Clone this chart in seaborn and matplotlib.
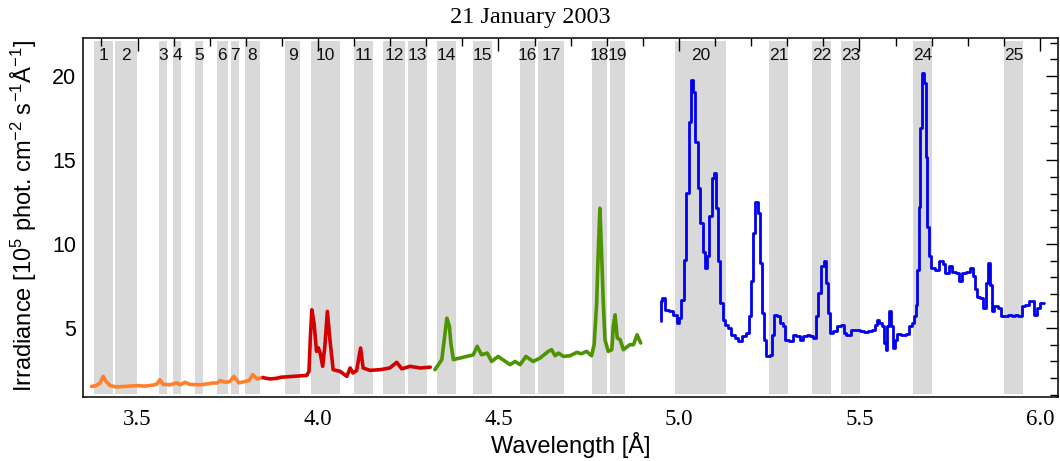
import numpy as np
import pandas as pd
import matplotlib
matplotlib.use("Agg")
import matplotlib.pyplot as plt
import seaborn as sns
from matplotlib.ticker import MultipleLocator

# ---------------- data ----------------
title = "21 January 2003"
band_labels = [str(i) for i in range(1, 26)]
band_lo = [3.380, 3.438, 3.560, 3.598, 3.659, 3.720, 3.759, 3.798, 3.909, 3.981,
           4.100, 4.180, 4.249, 4.330, 4.429, 4.560, 4.609, 4.759, 4.809, 4.989,
           5.249, 5.368, 5.449, 5.648, 5.900]
band_hi = [3.431, 3.498, 3.582, 3.621, 3.681, 3.750, 3.781, 3.839, 3.950, 4.061,
           4.152, 4.241, 4.302, 4.382, 4.482, 4.601, 4.681, 4.801, 4.850, 5.130,
           5.302, 5.421, 5.501, 5.701, 5.953]

orange_wl = [3.373, 3.385, 3.396, 3.405, 3.413, 3.424, 3.442, 3.465, 3.498, 3.521,
             3.543, 3.554, 3.562, 3.571, 3.590, 3.609, 3.618, 3.632, 3.645, 3.673,
             3.693, 3.709, 3.720, 3.729, 3.745, 3.756, 3.767, 3.781, 3.798, 3.809,
             3.819, 3.831, 3.848]
orange_irr = [1.50, 1.55, 1.70, 2.10, 1.80, 1.55, 1.47, 1.50, 1.55, 1.52,
              1.58, 1.65, 1.90, 1.62, 1.60, 1.71, 1.60, 1.75, 1.62, 1.60,
              1.65, 1.71, 1.70, 1.85, 1.75, 1.80, 2.10, 1.71, 1.80, 1.85,
              2.20, 1.95, 2.05]

red_wl = [3.848, 3.867, 3.884, 3.898, 3.931, 3.969, 3.975, 3.979, 3.983, 3.989,
          3.996, 4.001, 4.006, 4.013, 4.019, 4.026, 4.033, 4.042, 4.061, 4.080,
          4.089, 4.097, 4.107, 4.118, 4.125, 4.144, 4.172, 4.199, 4.218, 4.232,
          4.255, 4.283, 4.311]
red_irr = [2.02, 1.95, 1.98, 2.05, 2.10, 2.16, 2.40, 4.50, 6.07, 5.28,
           3.59, 3.80, 3.50, 2.70, 3.89, 5.97, 4.29, 2.50, 2.40, 2.10,
           2.60, 2.30, 2.45, 3.79, 2.60, 2.46, 2.50, 2.60, 2.94, 2.55,
           2.70, 2.60, 2.65]

green_wl = [4.324, 4.343, 4.352, 4.357, 4.364, 4.368, 4.375, 4.412, 4.430, 4.441,
            4.453, 4.469, 4.481, 4.499, 4.532, 4.546, 4.560, 4.576, 4.596, 4.615,
            4.638, 4.647, 4.657, 4.666, 4.680, 4.698, 4.717, 4.730, 4.744, 4.758,
            4.765, 4.772, 4.776, 4.781, 4.786, 4.790, 4.795, 4.804, 4.814, 4.818,
            4.823, 4.829, 4.837, 4.846, 4.864, 4.874, 4.884, 4.894]
green_irr = [2.50, 3.10, 4.68, 5.57, 5.08, 4.09, 3.10, 3.29, 3.38, 3.89,
             3.39, 3.49, 2.99, 3.29, 2.80, 2.99, 2.80, 3.29, 2.99, 3.19,
             3.59, 3.69, 3.33, 3.49, 3.29, 3.33, 3.53, 3.45, 3.59, 3.33,
             3.99, 6.47, 9.25, 12.12, 9.25, 6.67, 4.29, 3.59, 3.69, 5.08,
             5.77, 4.39, 4.29, 3.69, 3.99, 3.99, 4.58, 4.09]

blue_wl = [4.949, 4.950, 4.958, 4.966, 4.980, 4.989, 4.998, 5.003, 5.010, 5.017,
           5.023, 5.030, 5.035, 5.042, 5.049, 5.056, 5.063, 5.069, 5.075, 5.081,
           5.088, 5.093, 5.100, 5.106, 5.112, 5.118, 5.124, 5.132, 5.139, 5.149,
           5.160, 5.169, 5.180, 5.192, 5.197, 5.203, 5.209, 5.215, 5.222, 5.227,
           5.232, 5.238, 5.246, 5.257, 5.261, 5.266, 5.275, 5.285, 5.291, 5.298,
           5.312, 5.321, 5.330, 5.340, 5.349, 5.358, 5.367, 5.376, 5.383, 5.390,
           5.398, 5.404, 5.411, 5.416, 5.423, 5.432, 5.444, 5.454, 5.458, 5.469,
           5.483, 5.497, 5.506, 5.520, 5.529, 5.538, 5.546, 5.552, 5.559, 5.565,
           5.570, 5.575, 5.579, 5.584, 5.590, 5.595, 5.601, 5.607, 5.621, 5.635,
           5.641, 5.649, 5.653, 5.658, 5.663, 5.665, 5.670, 5.675, 5.681, 5.686,
           5.691, 5.695, 5.703, 5.714, 5.728, 5.734, 5.742, 5.753, 5.762, 5.774,
           5.780, 5.788, 5.802, 5.811, 5.817, 5.823, 5.829, 5.839, 5.848, 5.854,
           5.860, 5.865, 5.869, 5.878, 5.889, 5.898, 5.908, 5.917, 5.926, 5.935,
           5.944, 5.954, 5.963, 5.974, 5.981, 5.988, 5.995, 6.004, 6.010]
blue_irr = [5.38, 6.57, 6.77, 6.07, 6.00, 5.77, 5.28, 5.57, 6.67, 9.05,
            13.02, 17.28, 19.76, 19.07, 16.09, 13.31, 11.23, 9.54, 8.55, 9.25,
            11.63, 13.91, 14.25, 12.12, 8.95, 6.47, 5.48, 5.18, 4.98, 4.58,
            4.39, 4.19, 4.48, 4.68, 5.67, 7.76, 10.63, 12.52, 11.83, 8.85,
            5.87, 4.29, 3.29, 3.39, 4.58, 5.77, 5.67, 5.28, 5.08, 4.29,
            4.19, 4.58, 4.48, 4.25, 4.48, 4.58, 4.48, 4.39, 5.67, 7.06,
            8.65, 8.95, 7.66, 5.87, 4.68, 4.78, 5.08, 5.18, 4.68, 4.58,
            4.88, 4.88, 4.78, 4.75, 4.78, 4.88, 5.18, 5.47, 5.28, 5.08,
            4.09, 3.69, 5.08, 6.00, 5.08, 3.79, 4.29, 4.64, 4.55, 4.64,
            5.08, 5.28, 5.67, 6.37, 8.45, 12.22, 16.88, 20.20, 19.56, 15.20,
            11.03, 9.25, 8.55, 8.45, 8.95, 8.80, 8.25, 8.65, 8.35, 8.25,
            7.76, 8.25, 8.35, 8.55, 8.06, 7.30, 6.86, 6.77, 6.17, 7.66,
            8.85, 7.56, 6.00, 6.27, 6.20, 5.67, 5.67, 5.77, 5.67, 5.77,
            5.67, 6.27, 6.37, 6.60, 6.60, 5.77, 6.17, 6.47, 6.47]

x_ticks = [3.5, 4.0, 4.5, 5.0, 5.5, 6.0]
x_tick_labels = ["3.5", "4.0", "4.5", "5.0", "5.5", "6.0"]
y_ticks = [5, 10, 15, 20]

# ---------------- style ----------------
sns.set_theme(style="white")
plt.rcParams["font.family"] = ["Liberation Sans", "DejaVu Sans"]
plt.rcParams["mathtext.fontset"] = "custom"
plt.rcParams["mathtext.rm"] = "Liberation Sans"
plt.rcParams["mathtext.it"] = "Liberation Sans:italic"
plt.rcParams["mathtext.bf"] = "Liberation Sans:bold"

fig = plt.figure(figsize=(10.6, 4.61), dpi=100)
ax = fig.add_axes([0.0783, 0.1395, 0.9198, 0.7774])

XMIN, XMAX = 3.349, 6.050
YMIN, YMAX = 0.89, 22.25
ax.set_xlim(XMIN, XMAX)
ax.set_ylim(YMIN, YMAX)

# grey bands + labels
for lo, hi, lab in zip(band_lo, band_hi, band_labels):
    ax.axvspan(lo, hi, ymin=0.0075, ymax=0.9925, color="#d9d9d9", lw=0, zorder=0)
    ax.text((lo + hi) / 2, 21.25, lab, ha="center", va="center",
            fontsize=12.5, color="#111111", zorder=3)

segments = [
    ("orange", orange_wl, orange_irr, "#ff7f2a", 2.6, "default"),
    ("red", red_wl, red_irr, "#d40000", 2.6, "default"),
    ("green", green_wl, green_irr, "#4d9400", 2.6, "default"),
    ("blue", blue_wl, blue_irr, "#0000ee", 2.0, "steps-mid"),
]
for name, wl, irr, col, lw, ds in segments:
    df = pd.DataFrame({"wavelength": wl, "irradiance": irr})
    sns.lineplot(data=df, x="wavelength", y="irradiance", ax=ax, color=col,
                 lw=lw, estimator=None, sort=False, drawstyle=ds, zorder=4)

# axes / ticks
for sp in ax.spines.values():
    sp.set_visible(True)
    sp.set_color("black")
    sp.set_linewidth(1.1)

ax.set_xticks(x_ticks)
ax.set_xticklabels(x_tick_labels)
ax.set_yticks(y_ticks)
ax.xaxis.set_minor_locator(MultipleLocator(0.1))
ax.yaxis.set_minor_locator(MultipleLocator(1))
ax.tick_params(which="both", direction="in", top=True, right=True,
               color="black", width=1.0)
ax.tick_params(which="major", length=9)
ax.tick_params(which="minor", length=6)
ax.tick_params(axis="x", which="major", pad=9, labelsize=16.5)
ax.tick_params(axis="y", which="major", pad=5, labelsize=15.5)
for lbl in ax.get_xticklabels():
    lbl.set_fontfamily(["Liberation Serif", "DejaVu Serif"])
    lbl.set_color("black")
for lbl in ax.get_yticklabels():
    lbl.set_color("black")

ax.set_xlabel("Wavelength [Å]", fontsize=17, color="black")
ax.xaxis.set_label_coords(0.5, -0.135)
ax.xaxis.label.set_va("center")
ax.set_ylabel(r"Irradiance [10$^{5}$ phot. cm$^{-2}$ s$^{-1}$Å$^{-1}$]",
              fontsize=17, color="black")
ax.yaxis.set_label_coords(-0.0605, 0.505)
ax.yaxis.label.set_va("center")

fig.text(0.5, 0.963, title, ha="center", va="center", fontsize=17.5,
         family=["Liberation Serif", "DejaVu Serif"], color="black")

fig.savefig("out.png", dpi=100, facecolor="white")
